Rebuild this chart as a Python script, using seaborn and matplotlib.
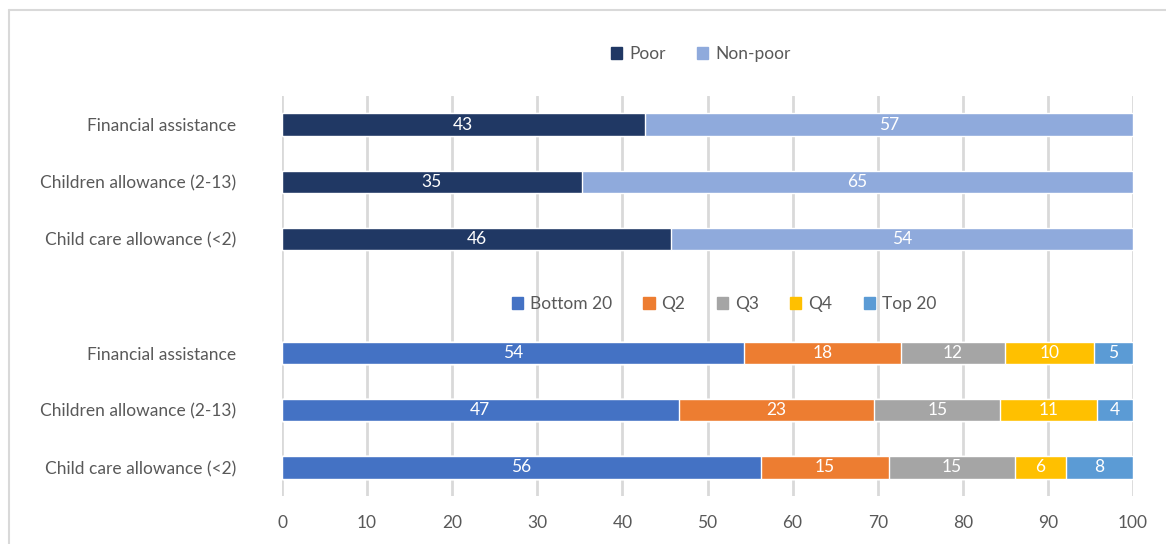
import pandas as pd
import matplotlib.pyplot as plt
import seaborn as sns
from matplotlib.patches import Patch
from matplotlib.lines import Line2D

programs = ['Financial assistance', 'Children allowance (2-13)', 'Child care allowance (<2)']

# poverty split (%)
poverty_groups = ['Poor', 'Non-poor']
poor = [42.6, 35.2, 45.7]
non_poor = [57.4, 64.8, 54.3]

# quintile split (%)
quintile_groups = ['Bottom 20', 'Q2', 'Q3', 'Q4', 'Top 20']
bottom20 = [54.3, 46.6, 56.3]
q2 = [18.4, 23.0, 15.0]
q3 = [12.3, 14.8, 14.8]
q4 = [10.4, 11.4, 6.0]
top20 = [4.6, 4.2, 7.9]

x_ticks = [0, 10, 20, 30, 40, 50, 60, 70, 80, 90, 100]

pov_colors = ['#203864', '#8FAADC']
quint_colors = ['#4472C4', '#ED7D31', '#A5A5A5', '#FFC000', '#5B9BD5']
txt = '#595959'
fs = 12.5

# long table: one row per segment
rows = []
for i, p in enumerate(programs):
    cum = 0
    for g, vals in zip(poverty_groups, [poor, non_poor]):
        cum += vals[i]
        rows.append({'row': f'p{i}', 'group': g, 'value': vals[i], 'end': cum})
    cum = 0
    for g, vals in zip(quintile_groups, [bottom20, q2, q3, q4, top20]):
        cum += vals[i]
        rows.append({'row': f'q{i}', 'group': g, 'value': vals[i], 'end': cum})
df = pd.DataFrame(rows)

row_order = ['p0', 'p1', 'p2', 'gap', 'q0', 'q1', 'q2']
ylabels = programs + [''] + programs

sns.set_style('white')
plt.rcParams['font.family'] = ['Lato', 'DejaVu Sans']

fig = plt.figure(figsize=(11.66, 5.44), dpi=100)
ax = fig.add_axes([282 / 1166, 48 / 544, 851 / 1166, 400 / 544])

for x in x_ticks:
    ax.axvline(x, color='#D9D9D9', lw=2, zorder=0)

# stacked bars: draw cumulative ends from last group to first
all_groups = list(zip(poverty_groups, pov_colors)) + list(zip(quintile_groups, quint_colors))
for g, c in reversed(all_groups):
    sub = df[df.group == g]
    sns.barplot(data=sub, x='end', y='row', order=row_order, color=c,
                width=0.39, orient='h', ax=ax, zorder=2, saturation=1)

for _, r in df.iterrows():
    ax.text(r.end - r.value / 2, row_order.index(r.row), f'{r.value:.0f}',
            ha='center', va='center', color='white', fontsize=fs, zorder=3)

ax.set_xlim(0, 100)
ax.set_ylim(6.5, -0.5)
ax.set_xticks(x_ticks)
ax.set_yticks(range(len(row_order)))
ax.set_yticklabels(ylabels)
ax.set_xlabel('')
ax.set_ylabel('')
ax.tick_params(axis='y', length=0, pad=33, labelsize=fs, labelcolor=txt)
ax.tick_params(axis='x', length=0, pad=14, labelsize=fs, labelcolor=txt)
for s in ax.spines.values():
    s.set_visible(False)

h1 = [Patch(color=c, label=g) for g, c in zip(poverty_groups, pov_colors)]
fig.legend(handles=h1, loc='center', bbox_to_anchor=(701 / 1166, 1 - 54 / 544), ncol=2,
           frameon=False, handlelength=0.65, handleheight=0.65, handletextpad=0.4,
           columnspacing=1.8, fontsize=fs, labelcolor=txt)
h2 = [Patch(color=c, label=g) for g, c in zip(quintile_groups, quint_colors)]
fig.legend(handles=h2, loc='center', bbox_to_anchor=(724 / 1166, 1 - 304 / 544), ncol=5,
           frameon=False, handlelength=0.65, handleheight=0.65, handletextpad=0.4,
           columnspacing=1.8, fontsize=fs, labelcolor=txt)

# outer chart frame (top and left edges visible)
fig.add_artist(Line2D([9 / 1166, 1], [1 - 10 / 544, 1 - 10 / 544], color='#D9D9D9', lw=1.5))
fig.add_artist(Line2D([9 / 1166, 9 / 1166], [0, 1 - 10 / 544], color='#D9D9D9', lw=1.5))

fig.savefig('out.png', dpi=100)
